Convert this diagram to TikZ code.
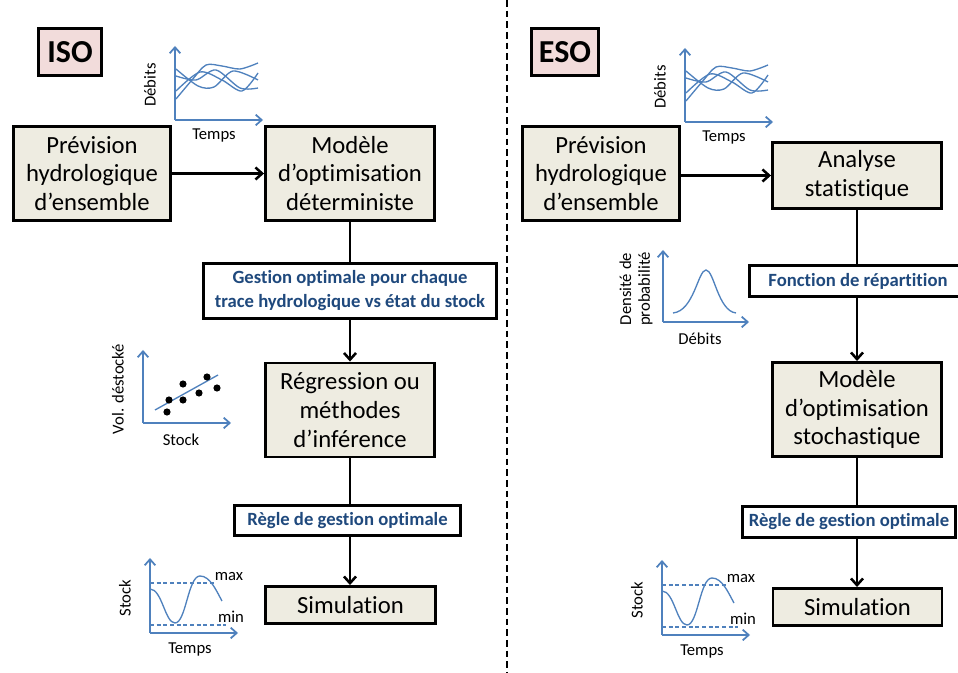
\documentclass[tikz,border=0pt]{standalone}
\usepackage{fontspec}
\setmainfont{Carlito}[Ligatures=NoCommon]
\usetikzlibrary{arrows.meta}

\definecolor{beige}{HTML}{EEECE1}
\definecolor{pinkbg}{HTML}{F2DCDB}
\definecolor{navy}{HTML}{1F497D}
\definecolor{plotblue}{HTML}{4F81BD}

\tikzset{
  procbox/.style={draw,line width=2.2pt,fill=beige,align=center,inner sep=1pt,
    font=\fontsize{18.5}{21.5}\selectfont},
  labelbox/.style={draw,line width=2.2pt,fill=white,align=center,inner sep=1pt,text=navy,
    font=\bfseries\fontsize{14}{18}\selectfont},
  headbox/.style={draw,line width=2.4pt,fill=pinkbg,inner sep=0pt,
    minimum height=35.25pt,font=\bfseries\fontsize{24}{28}\selectfont},
  link/.style={line width=1.9pt,-{Straight Barb[length=5pt,width=9pt,line width=1.9pt]}},
  axisline/.style={draw=plotblue,line width=1.3pt,-{Straight Barb[length=4.5pt,width=8pt]}},
  curve/.style={draw=plotblue,line width=1pt},
  limit/.style={draw=plotblue,line width=0.9pt,dash pattern=on 3pt off 2pt},
  axislab/.style={inner sep=0pt,align=center,font=\fontsize{12.5}{14}\selectfont}
}

\begin{document}
\begin{tikzpicture}[x=0.75pt,y=-0.75pt]
\useasboundingbox (0,0) rectangle (958,673);

% separation
\draw[line width=1.2pt,dash pattern=on 5pt off 3pt] (507,0) -- (507,673);

% ---- ISO ----
\node[headbox,minimum width=47.25pt] (iso) at (70,52) {ISO};
\node[procbox,minimum width=117.75pt,minimum height=70.5pt] (prevL) at (92,173.5)
  {Prévision\\hydrologique\\d’ensemble};
\node[procbox,minimum width=126.75pt,minimum height=70.5pt] (optL) at (350,173.5)
  {Modèle\\d’optimisation\\déterministe};
\node[labelbox,minimum width=219.75pt,minimum height=41.25pt] (gestL) at (350,291)
  {Gestion optimale pour chaque\\trace hydrologique vs état du stock};
\node[procbox,minimum width=126.75pt,minimum height=70.5pt] (regL) at (350,410)
  {Régression ou\\méthodes\\d’inférence};
\node[labelbox,minimum width=169.5pt,minimum height=22.5pt] (regleL) at (347.5,520.5)
  {Règle de gestion optimale};
\node[procbox,minimum width=127.5pt,minimum height=27.75pt] (simL) at (350.5,605)
  {Simulation};

\draw[link] (prevL.east) -- (optL.west);
\draw[line width=1.9pt] (optL.south) -- (optL.south |- gestL.north);
\draw[link] (optL.south |- gestL.south) -- (regL.north);
\draw[line width=1.9pt] (regL.south) -- (regL.south |- regleL.north);
\draw[link] (regL.south |- regleL.south) -- (regL.south |- simL.north);

% ---- ESO ----
\node[headbox,minimum width=50.25pt] (eso) at (565,52) {ESO};
\node[procbox,minimum width=117.75pt,minimum height=70.5pt] (prevR) at (601,173.5)
  {Prévision\\hydrologique\\d’ensemble};
\node[procbox,minimum width=126.75pt,minimum height=49.5pt] (anaR) at (857,175.5)
  {Analyse\\statistique};
\node[labelbox,minimum width=162.75pt,minimum height=23.25pt] (fonR) at (858,281)
  {Fonction de répartition};
\node[procbox,minimum width=126.75pt,minimum height=70.5pt] (optR) at (857,409.5)
  {Modèle\\d’optimisation\\stochastique};
\node[labelbox,minimum width=159.75pt,minimum height=23.25pt] (regleR) at (849,522)
  {Règle de gestion optimale};
\node[procbox,minimum width=126.75pt,minimum height=27.75pt] (simR) at (857.5,607)
  {Simulation};

\draw[link] (prevR.east |- anaR.west) -- (anaR.west);
\draw[line width=1.9pt] (anaR.south) -- (anaR.south |- fonR.north);
\draw[link] (anaR.south |- fonR.south) -- (optR.north);
\draw[line width=1.9pt] (optR.south) -- (optR.south |- regleR.north);
\draw[link] (optR.south |- regleR.south) -- (optR.south |- simR.north);

% debits vs temps (both sides)
\foreach \dx/\dy/\s in {0/0/L,510/2/R} {
  \begin{scope}[shift={(\dx,\dy)}]
    \draw[axisline] (175,120) -- (175,46);
    \draw[axisline] (175,120) -- (263,120);
    \draw[curve] plot[smooth] coordinates {(176,99) (192,80) (206,65) (222,66) (240,69) (258,63)};
    \draw[curve] plot[smooth] coordinates {(176,69) (198,86) (214,87) (233,71) (258,80)};
    \draw[curve] plot[smooth] coordinates {(176,76) (196,80) (216,70) (240,88) (258,88)};
    \draw[curve] plot[smooth] coordinates {(176,91) (200,72) (222,80) (242,91) (258,73)};
    \node[axislab,rotate=90] (deb\s) at (150,85) {Débits};
    \node[axislab] (tps\s) at (214,136) {Temps};
  \end{scope}
}

% densite de probabilite
\draw[axisline] (663,322) -- (663,250);
\draw[axisline] (663,322) -- (749,322);
\draw[curve] (673,313) .. controls (694,311) and (698,270) .. (706,270)
  .. controls (714,270) and (718,311) .. (736,313);
\node[axislab,rotate=90] (dens) at (636,289) {Densité de\\probabilité};
\node[axislab] (debD) at (700,339) {Débits};

% vol. destocke vs stock
\draw[axisline] (143,423) -- (143,350);
\draw[axisline] (143,423) -- (231,423);
\draw[curve] (155,410) -- (218,375);
\foreach \px/\py in {167/412,169/400,183/384,183/400,199/393,207/377,217/388}
  \fill (\px,\py) circle (2.7pt);
\node[axislab,rotate=90] (vol) at (118,389) {Vol. déstocké};
\node[axislab] (stk) at (181,440) {Stock};

% stock vs temps (both sides)
\foreach \dx/\dy/\s in {0/0/L,512/2/R} {
  \begin{scope}[shift={(\dx,\dy)}]
    \draw[axisline] (150,633) -- (150,558);
    \draw[axisline] (150,633) -- (238,633);
    \draw[limit] (150,583) -- (216,583);
    \draw[limit] (150,625) -- (226,625);
    \draw[curve] (150,589) .. controls (162,589) and (165,623) .. (175,623)
      .. controls (186,623) and (188,576) .. (200,576)
      .. controls (210,576) and (216,590) .. (222,601);
    \node[axislab] (max\s) at (229,577) {max};
    \node[axislab] (min\s) at (231,617) {min};
    \node[axislab,rotate=90] (sto\s) at (125,598) {Stock};
    \node[axislab] (tmp\s) at (190,649) {Temps};
  \end{scope}
}
\end{tikzpicture}
\end{document}
